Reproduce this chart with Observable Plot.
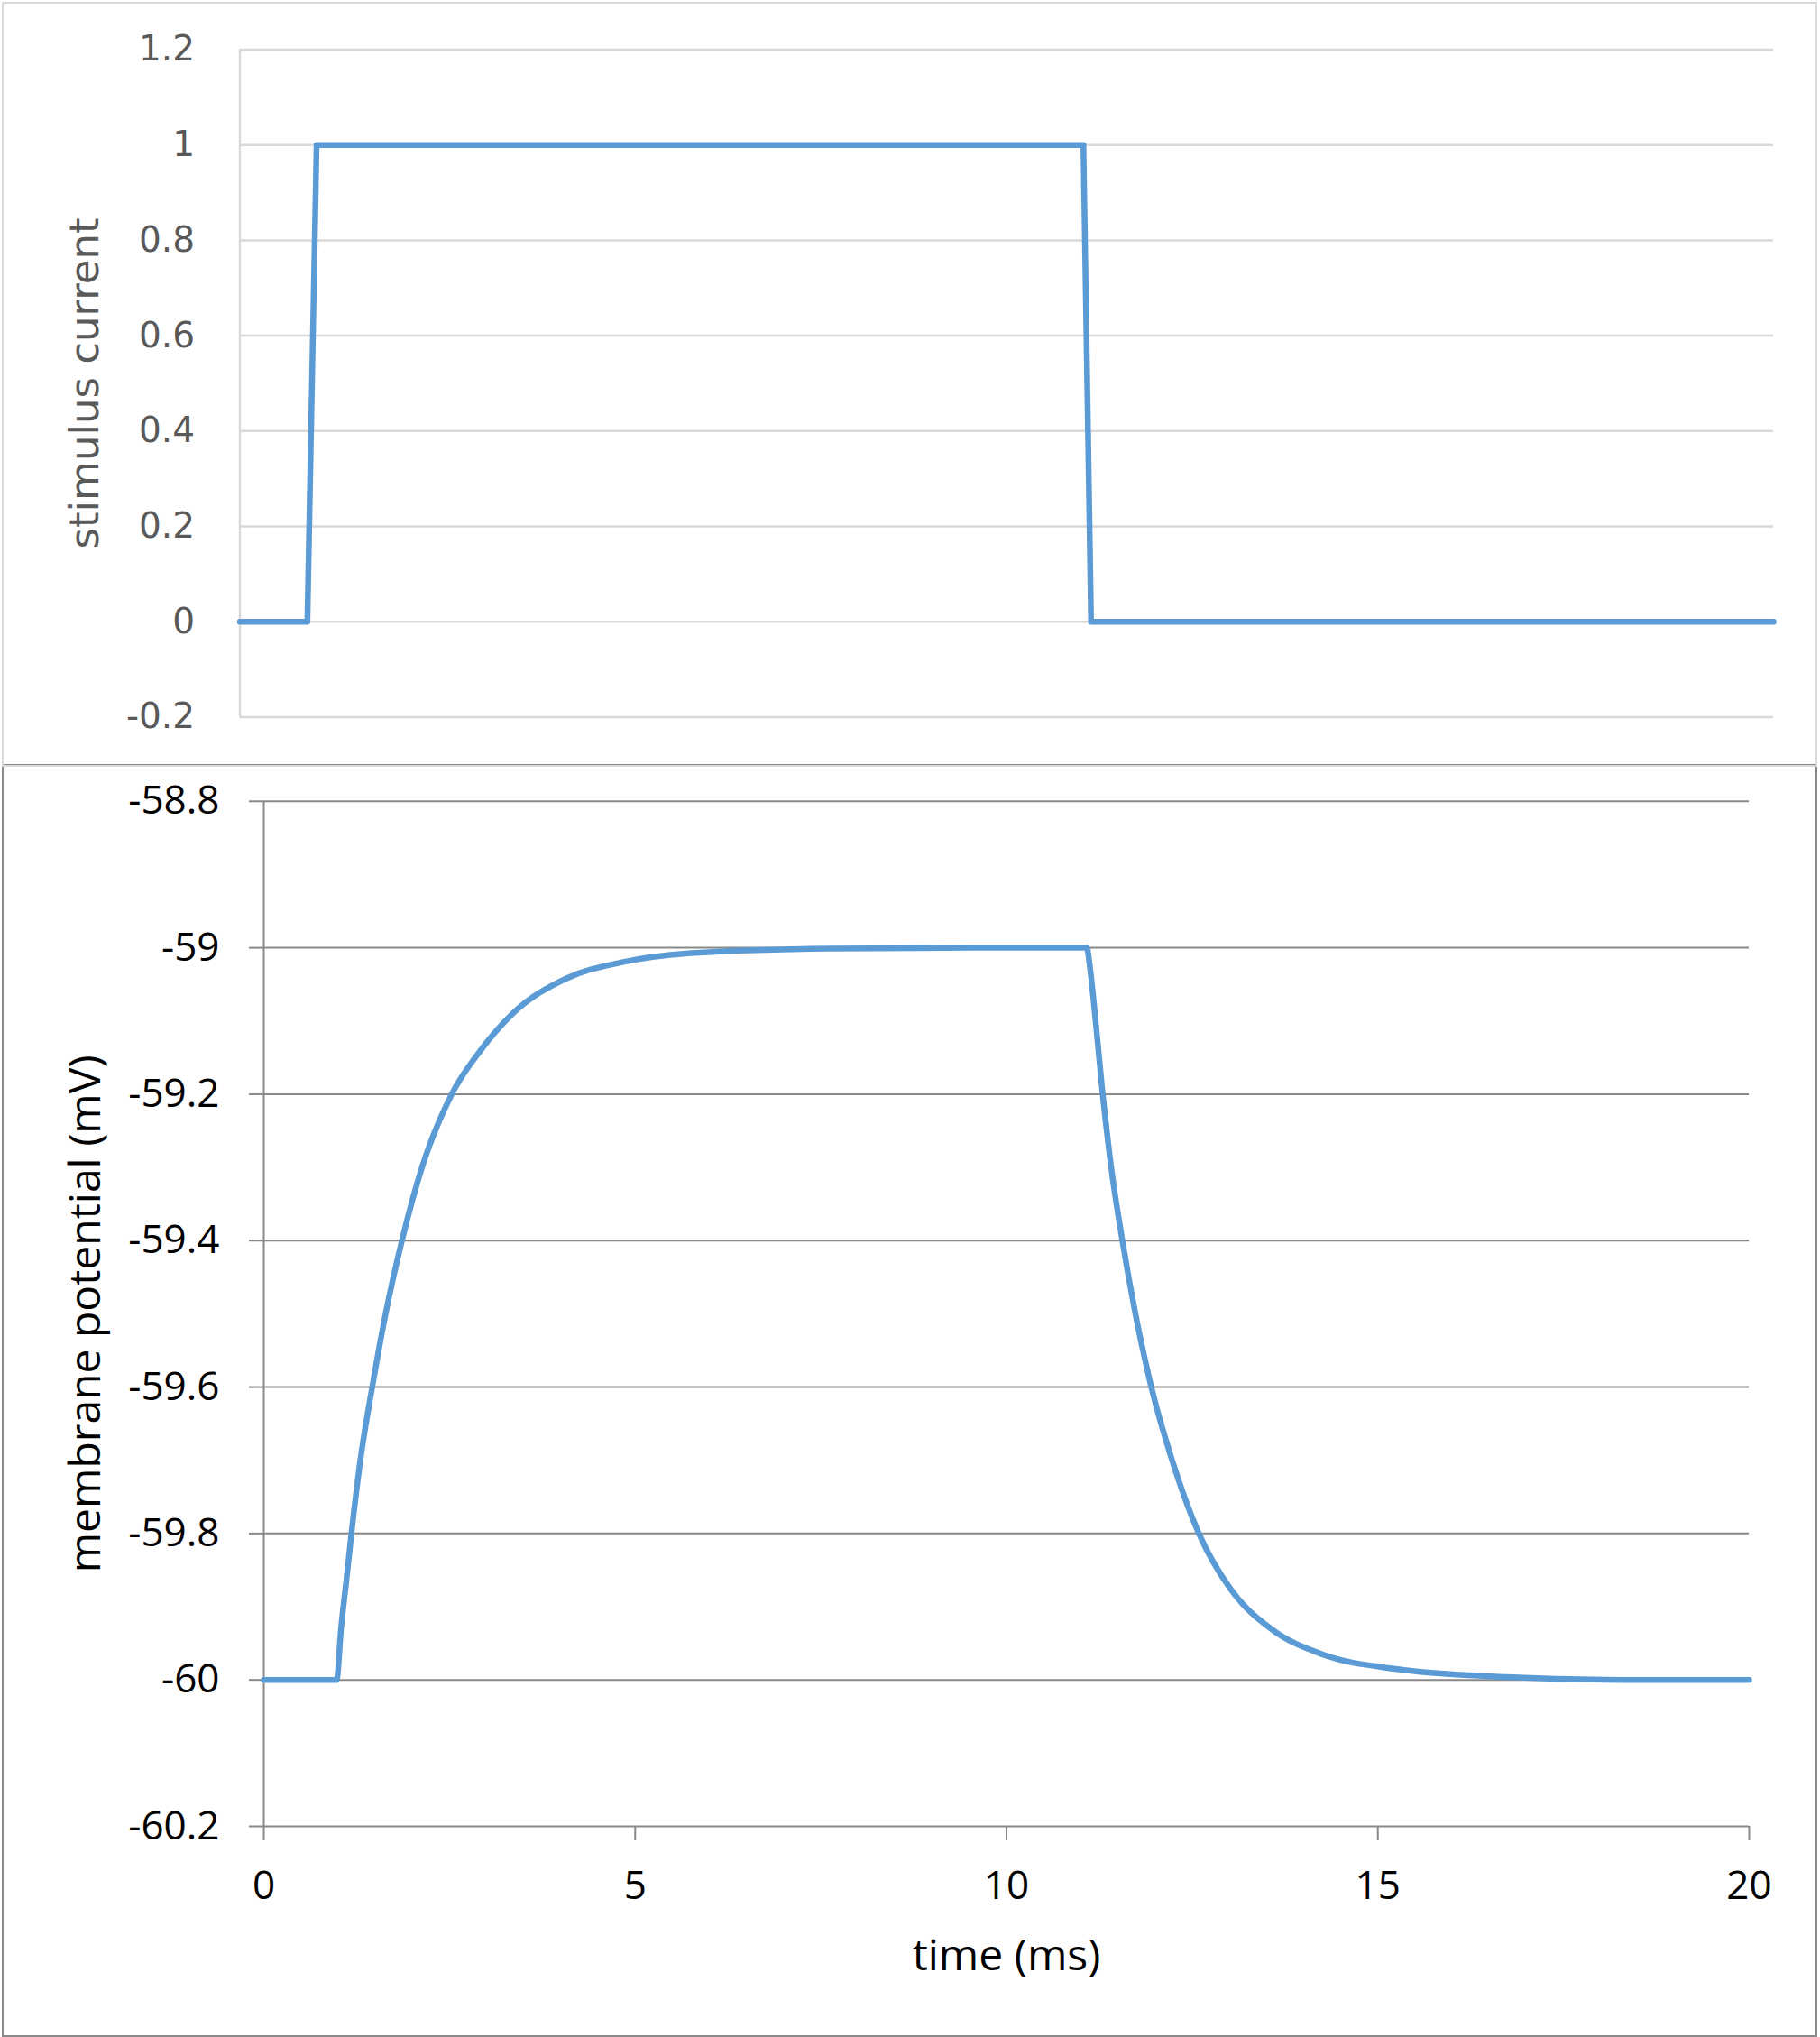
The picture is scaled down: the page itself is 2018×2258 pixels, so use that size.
<!DOCTYPE html>
<html>
<head>
<meta charset="utf-8">
<script src="https://cdn.jsdelivr.net/npm/d3@7"></script>
<script src="https://cdn.jsdelivr.net/npm/@observablehq/plot@0.6"></script>
<style>
  html, body { margin: 0; padding: 0; background: #fff; }
  #wrap { position: relative; width: 2018px; height: 2258px; background: #fff; overflow: hidden; }
  #top, #bottom { position: absolute; left: 0; }
  #top { top: 0; z-index: 2; }
  #bottom { top: 848px; z-index: 1; }
  .box { position: absolute; box-sizing: border-box; pointer-events: none; }
  #boxTop { left: 2px; top: 2px; width: 2013px; height: 848px; border: 2px solid #d9d9d9; z-index: 4; }
  #boxBottom { left: 2px; top: 847px; width: 2013px; height: 1411px; border: 2px solid #898989; z-index: 3; }
</style>
</head>
<body>
<div id="wrap">
  <div id="top"></div>
  <div id="bottom"></div>
  <div class="box" id="boxBottom"></div>
  <div class="box" id="boxTop"></div>
</div>
<script>
// ---- data ----
const stimTime    = [0, 0.88, 1.0, 11.0, 11.1, 20];
const stimCurrent = [0, 0,    1,   1,    0,    0];

const vmTime  = [0, 0.98, 1.04, 1.115, 1.18, 1.30, 1.46, 1.64, 1.86, 2.13, 2.53, 2.92, 3.35, 4.07, 4.81, 5.80, 7.63, 9.5,
                 11.08, 11.13, 11.20, 11.29, 11.41, 11.56, 11.74, 11.95, 12.23, 12.59, 13.01, 13.56, 14.25, 15.24, 16.73, 18.56, 20];
const vmValue = [-60, -60, -59.93, -59.861, -59.8, -59.7, -59.6, -59.5, -59.4, -59.3, -59.2, -59.14, -59.09, -59.042, -59.02, -59.007, -59.001, -59.0,
                 -59.0, -59.032, -59.10, -59.195, -59.3, -59.4, -59.502, -59.6, -59.7, -59.8, -59.875, -59.93, -59.965, -59.985, -59.996, -60.0, -60.0];

const topYTicks    = [-0.2, 0, 0.2, 0.4, 0.6, 0.8, 1, 1.2];
const bottomYTicks = [-60.2, -60, -59.8, -59.6, -59.4, -59.2, -59, -58.8];
const xTicks       = [0, 5, 10, 15, 20];

const topYLabel = "stimulus current";
const bottomYLabel = "membrane potential (mV)";
const xLabel = "time (ms)";

// ---- tables ----
const stim = stimTime.map((t, i) => ({t, I: stimCurrent[i]}));
const vm = vmTime.map((t, i) => ({t, V: vmValue[i]}));

const blue = "#5b9bd5";

// ---- top chart ----
const topPlot = Plot.plot({
  width: 2018,
  height: 849,
  marginLeft: 265.5,
  marginRight: 52,
  marginTop: 54.5,
  marginBottom: 54.6,
  style: {fontFamily: "'DejaVu Sans', sans-serif", color: "#595959", background: "white"},
  x: {domain: [0, 20], axis: null},
  y: {domain: [-0.2, 1.2], axis: null},
  marks: [
    Plot.ruleY(topYTicks, {stroke: "#d9d9d9", strokeWidth: 2.5}),
    Plot.ruleX([0], {y1: -0.2, y2: 1.2, stroke: "#d9d9d9", strokeWidth: 2.5}),
    Plot.axisY(topYTicks, {anchor: "left", tickSize: 0, tickPadding: 50, fontSize: 39, tickFormat: d => String(d), fill: "#595959", label: null}),
    Plot.line(stim, {x: "t", y: "I", stroke: blue, strokeWidth: 6.5, strokeLinejoin: "round", strokeLinecap: "round"}),
    Plot.text([topYLabel], {frameAnchor: "left", text: d => d, rotate: -90, dx: -171.5, fontSize: 45, fill: "#595959", textAnchor: "middle", lineAnchor: "middle"})
  ]
});
document.getElementById("top").appendChild(topPlot);

// ---- bottom chart ----
const bottomPlot = Plot.plot({
  width: 2018,
  height: 1410,
  marginLeft: 292,
  marginRight: 79,
  marginTop: 39.8,
  marginBottom: 234,
  style: {fontFamily: "'Open Sans', sans-serif", color: "#000", background: "white"},
  x: {domain: [0, 20], axis: null},
  y: {domain: [-60.2, -58.8], axis: null},
  marks: [
    Plot.ruleY(bottomYTicks, {stroke: "#898989", strokeWidth: 2}),
    Plot.ruleX([0], {y1: -60.2, y2: -58.8, stroke: "#898989", strokeWidth: 2}),
    Plot.axisY(bottomYTicks, {anchor: "left", tickSize: 16, tickPadding: 33, fontSize: 44, stroke: "#898989", strokeWidth: 2, fill: "#000", tickFormat: d => String(d), label: null}),
    Plot.axisX(xTicks, {anchor: "bottom", tickSize: 16, tickPadding: 33, fontSize: 44, stroke: "#898989", strokeWidth: 2, fill: "#000", tickFormat: d => String(d), label: null}),
    Plot.line(vm, {x: "t", y: "V", stroke: blue, strokeWidth: 6.5, curve: "monotone-x", strokeLinejoin: "round", strokeLinecap: "round"}),
    Plot.text([bottomYLabel], {frameAnchor: "left", text: d => d, rotate: -90, dx: -197, fontSize: 48, fill: "#000", textAnchor: "middle", lineAnchor: "middle"}),
    Plot.text([xLabel], {frameAnchor: "bottom", text: d => d, dy: 144, fontSize: 48, fill: "#000", textAnchor: "middle", lineAnchor: "middle"})
  ]
});
document.getElementById("bottom").appendChild(bottomPlot);
</script>
</body>
</html>
